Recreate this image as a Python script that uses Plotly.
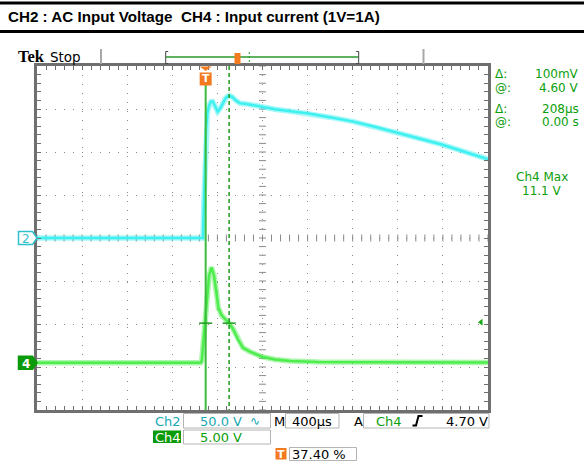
import plotly.graph_objects as go
import numpy as np

# ---------------- data (read from the scope screen) ----------------
# time relative to trigger, microseconds
ch2_t = [-1496, -24, -15, -6, 3, 16, 30, 47, 62, 82, 106, 127, 153, 180, 207, 233,
         270, 305, 350, 395, 440, 510, 615, 750, 900, 1100, 1300, 1500, 1700, 1900,
         2100, 2300, 2504]
# CH2 AC input voltage, volts
ch2_v = [0, 0, 44.5, 91.0, 126.0, 145.7, 153.8, 158.5, 158.8, 153.8, 146.9, 150.3,
         157.3, 163.1, 165.5, 164.3, 159.7, 156.7, 156.2, 155.0, 154.4, 152.1, 149.8,
         147.4, 145.1, 140.5, 135.6, 129.4, 122.1, 115.5, 108.5, 100.3, 91.6]

ch4_t = [-1496, -45, -35, -24, -12, 0, 16, 30, 52, 74, 98, 112, 142, 186, 208, 245,
         286, 331, 393, 500, 615, 750, 1000, 1500, 2504]
# CH4 input current probe, volts (1V = 1A)
ch4_v = [0, 0, 0.2, 1.9, 3.6, 4.7, 7.7, 10.1, 11.1, 10.1, 7.9, 6.4, 5.5, 4.95, 4.6,
         3.87, 2.71, 1.74, 1.28, 0.70, 0.38, 0.19, 0.09, 0.05, 0.03]

TIME_PER_DIV = 400      # µs / div
TRIG_POS = 0.374        # 37.40 %
CH2_VDIV = 50.0         # V / div
CH4_VDIV = 5.0          # V / div
CH4_OFFSET_DIV = -2.9   # ch4 ground position (div)
CURSOR_T = [0, 208]     # µs
CURSOR_V = 4.60         # V
TRIG_LEVEL = 4.70       # V

X0 = -TRIG_POS * 10 * TIME_PER_DIV
X1 = X0 + 10 * TIME_PER_DIV
XC = X0 + 5 * TIME_PER_DIV
Y2R = [(-4 - CH4_OFFSET_DIV) * CH4_VDIV, (4 - CH4_OFFSET_DIV) * CH4_VDIV]

# ---------------- geometry helpers (pixels -> paper) ----------------
L, R, T, B = 37, 96, 66, 51
W, H = 584, 461
PW, PH = W - L - R, H - T - B


def PX(px):
    return (px - L) / PW


def PY(py):
    return (H - B - py) / PH


def y2paper(v):
    return (v - Y2R[0]) / (Y2R[1] - Y2R[0])


def y1paper(v):
    return (v + 4 * CH2_VDIV) / (8 * CH2_VDIV)


def tpaper(t):
    return (t - X0) / (X1 - X0)


GRID = '#8a8a8a'
CYAN = '#3ff0f0'
CYAN_TXT = '#17a8b4'
GREEN_TR = '#4ded4d'
GREEN_TXT = '#0b9e0b'
ORANGE = '#f47a1f'

fig = go.Figure()

# center graticule cross ticks
fig.add_trace(go.Scatter(
    x=np.arange(X0, X1 + 1, TIME_PER_DIV / 5), y=[0] * 51, mode='markers',
    marker=dict(symbol='line-ns', size=5, line=dict(width=1, color=GRID)),
    hoverinfo='skip', showlegend=False))
fig.add_trace(go.Scatter(
    x=[XC] * 41, y=np.arange(-4 * CH2_VDIV, 4 * CH2_VDIV + 1, CH2_VDIV / 5), mode='markers',
    marker=dict(symbol='line-ew', size=5, line=dict(width=1, color=GRID)),
    hoverinfo='skip', showlegend=False))

# waveforms (soft noise band + bright core)
fig.add_trace(go.Scatter(x=ch2_t, y=ch2_v, mode='lines', opacity=0.45,
                         line=dict(color=CYAN, width=5.5), showlegend=False, hoverinfo='skip'))
fig.add_trace(go.Scatter(x=ch2_t, y=ch2_v, mode='lines',
                         line=dict(color=CYAN, width=2.5), showlegend=False))
fig.add_trace(go.Scatter(x=ch4_t, y=ch4_v, mode='lines', yaxis='y2', opacity=0.45,
                         line=dict(color=GREEN_TR, width=5.5), showlegend=False, hoverinfo='skip'))
fig.add_trace(go.Scatter(x=ch4_t, y=ch4_v, mode='lines', yaxis='y2',
                         line=dict(color=GREEN_TR, width=2.5), showlegend=False))

# trigger level arrow at the right
fig.add_trace(go.Scatter(x=[X0 + (481 - L) / PW * (X1 - X0)], y=[TRIG_LEVEL], yaxis='y2',
                         mode='markers', cliponaxis=False,
                         marker=dict(symbol='triangle-left', size=6, color='#1aa81a'),
                         showlegend=False, hoverinfo='skip'))

shapes = []
# title bars
for yy in (3, 31.5):
    shapes.append(dict(type='line', xref='paper', yref='paper', x0=PX(0), x1=PX(W),
                       y0=PY(yy), y1=PY(yy), line=dict(color='black', width=3)))

# cursors
shapes.append(dict(type='line', xref='x', yref='paper', x0=CURSOR_T[0], x1=CURSOR_T[0],
                   y0=PY(85), y1=0, line=dict(color='#3cbc3c', width=2)))
shapes.append(dict(type='line', xref='x', yref='paper', x0=CURSOR_T[1], x1=CURSOR_T[1],
                   y0=1, y1=0, line=dict(color='#1f9a1f', width=1.5, dash='4px,3px')))
hw = 6.5 / PW * (X1 - X0)
for ct in CURSOR_T:
    shapes.append(dict(type='line', xref='x', yref='y2', x0=ct - hw, x1=ct + hw,
                       y0=CURSOR_V, y1=CURSOR_V, line=dict(color='#1f9a1f', width=1.5)))

# trigger marker at top
tx = tpaper(0)
dx = 6 / PW
shapes.append(dict(type='path', xref='paper', yref='paper', fillcolor=ORANGE, line=dict(width=0),
                   path=f'M {tx-dx},{PY(66.5)} L {tx+dx},{PY(66.5)} L {tx},{PY(71)} Z'))
shapes.append(dict(type='rect', xref='paper', yref='paper', fillcolor=ORANGE, line=dict(width=0),
                   x0=tx - dx, x1=tx + dx, y0=PY(72.5), y1=PY(85.5)))


def chan_marker(yp, fill, edge):
    ys = 6.5 / PH
    return dict(type='path', xref='paper', yref='paper', fillcolor=fill,
                line=dict(color=edge, width=1.5),
                path=(f'M {PX(18.5)},{yp+ys} L {PX(32.5)},{yp+ys} L {PX(37)},{yp} '
                      f'L {PX(32.5)},{yp-ys} L {PX(18.5)},{yp-ys} Z'))


shapes.append(chan_marker(y1paper(0), 'white', '#30c0cc'))
shapes.append(chan_marker(y2paper(0), '#0a9a0a', '#0a9a0a'))

# top status bar
for gx in (101, 423.5):
    shapes.append(dict(type='line', xref='paper', yref='paper', x0=PX(gx), x1=PX(gx),
                       y0=PY(49), y1=PY(64), line=dict(color='#a8a8a8', width=2)))
shapes.append(dict(type='line', xref='paper', yref='paper', x0=PX(166), x1=PX(358.5),
                   y0=PY(57), y1=PY(57), line=dict(color='#2a9a2a', width=1.5)))
for bx, d in ((165.7, 2.5), (358.7, -2.5)):
    shapes.append(dict(type='path', xref='paper', yref='paper', line=dict(color='#444', width=1),
                       path=(f'M {PX(bx+d)},{PY(51.5)} L {PX(bx)},{PY(51.5)} L {PX(bx)},{PY(63.5)} '
                             f'L {PX(bx+d)},{PY(63.5)}')))
shapes.append(dict(type='rect', xref='paper', yref='paper', fillcolor=ORANGE, line=dict(width=0),
                   x0=PX(234.5), x1=PX(240.5), y0=PY(53), y1=PY(64)))
shapes.append(dict(type='line', xref='paper', yref='paper', x0=PX(249.3), x1=PX(249.3),
                   y0=PY(52), y1=PY(64), line=dict(color='#2a9a2a', width=1, dash='2px,2px')))

# bottom readout boxes
for (x0, x1, y0, y1) in ((183.5, 270.5, 413.5, 428), (285.5, 339, 413.5, 428),
                         (363.5, 489, 413.5, 428), (183.5, 270.5, 430, 444),
                         (289.5, 356.5, 447.5, 460.5)):
    shapes.append(dict(type='rect', xref='paper', yref='paper', x0=PX(x0), x1=PX(x1),
                       y0=PY(y0), y1=PY(y1), line=dict(color='#b4b4b4', width=1)))
shapes.append(dict(type='rect', xref='paper', yref='paper', x0=PX(153), x1=PX(181),
                   y0=PY(430.5), y1=PY(443), fillcolor='#0a9a0a', line=dict(width=0)))
shapes.append(dict(type='rect', xref='paper', yref='paper', x0=PX(275.5), x1=PX(286.5),
                   y0=PY(448), y1=PY(459.5), fillcolor=ORANGE, line=dict(width=0)))
# rising slope icon
shapes.append(dict(type='path', xref='paper', yref='paper', line=dict(color='black', width=2),
                   path=(f'M {PX(412.5)},{PY(425.5)} L {PX(416)},{PY(425.5)} L {PX(418.5)},{PY(416)} '
                         f'L {PX(422.5)},{PY(416)}')))

ann = []


def txt(s, x, y, color='black', size=13, xanchor='left', family='DejaVu Sans'):
    ann.append(dict(text=s, x=PX(x), y=PY(y), xref='paper', yref='paper', showarrow=False,
                    xanchor=xanchor, yanchor='middle', borderpad=0,
                    font=dict(color=color, size=size, family=family)))


txt('<b>CH2 : AC Input Voltage  CH4 : Input current (1V=1A)</b>', 7, 17, size=15.2,
    family='Liberation Sans, Arial')
txt('<b>Tek</b>', 17, 57, size=16.5, family='Liberation Serif')
txt('Stop', 48.5, 56.5, size=13.5)
txt('<b>T</b>', tpaper(0) * PW + L, 79, color='white', size=11, xanchor='center')
txt('2', 25.5, 238.6, color='#30c0cc', size=12, xanchor='center')
txt('<b>4</b>', 25.5, 363.5, color='white', size=12, xanchor='center')

# right side readouts
RS = 12
txt('Δ:', 494, 73.5, GREEN_TXT, RS)
txt('100mV', 580, 73.5, GREEN_TXT, RS, xanchor='right')
txt('@:', 494, 87.5, GREEN_TXT, RS)
txt(f'{CURSOR_V:.2f} V', 580, 87.5, GREEN_TXT, RS, xanchor='right')
txt('Δ:', 494, 108.5, GREEN_TXT, RS)
txt(f'{CURSOR_T[1] - CURSOR_T[0]}µs', 580, 108.5, GREEN_TXT, RS, xanchor='right')
txt('@:', 494, 122.5, GREEN_TXT, RS)
txt('0.00 s', 580, 122.5, GREEN_TXT, RS, xanchor='right')
txt('Ch4 Max', 542, 177, GREEN_TXT, RS, xanchor='center')
txt(f'{max(ch4_v):.1f} V', 542, 191, GREEN_TXT, RS, xanchor='center')

# bottom readouts
txt('Ch2', 154, 421, CYAN_TXT)
txt(f'{CH2_VDIV:.1f} V', 198.5, 421, CYAN_TXT)
txt('∿', 249, 421, CYAN_TXT, size=12)
txt('M', 272.5, 421)
txt(f'{TIME_PER_DIV}µs', 291, 421)
txt('A', 353, 421)
txt('Ch4', 374.5, 421, GREEN_TXT)
txt(f'{TRIG_LEVEL:.2f} V', 488.5, 421, xanchor='right')
txt('Ch4', 153.5, 437, 'white')
txt(f'{CH4_VDIV:.2f} V', 198.5, 437, GREEN_TXT)
txt('<b>T</b>', 281, 454, 'white', size=11, xanchor='center')
txt(f'{TRIG_POS*100:.2f} %', 291, 454)

axis_common = dict(showticklabels=False, showline=True, linewidth=2.5, linecolor='#6f6f6f',
                   mirror='allticks', ticks='inside', ticklen=4, tickcolor='#6f6f6f',
                   showgrid=True, gridcolor=GRID, gridwidth=1, griddash='1px,8px',
                   zeroline=False, fixedrange=True)

fig.update_layout(
    width=W, height=H, margin=dict(l=L, r=R, t=T, b=B),
    paper_bgcolor='white', plot_bgcolor='white', showlegend=False,
    xaxis=dict(range=[X0, X1], tick0=X0, dtick=TIME_PER_DIV,
               minor=dict(ticks='inside', ticklen=4, tick0=X0, dtick=TIME_PER_DIV / 5,
                          tickcolor='#6f6f6f', showgrid=False), **axis_common),
    yaxis=dict(range=[-4 * CH2_VDIV, 4 * CH2_VDIV], tick0=0, dtick=CH2_VDIV,
               minor=dict(ticks='inside', ticklen=4, dtick=CH2_VDIV / 5,
                          tickcolor='#6f6f6f', showgrid=False), **axis_common),
    yaxis2=dict(range=Y2R, overlaying='y', visible=False, fixedrange=True),
    shapes=shapes, annotations=ann,
)

fig.write_html('out.html', config={'displayModeBar': False},
               post_script="document.body.style.margin='0px';document.body.style.padding='0px';")
